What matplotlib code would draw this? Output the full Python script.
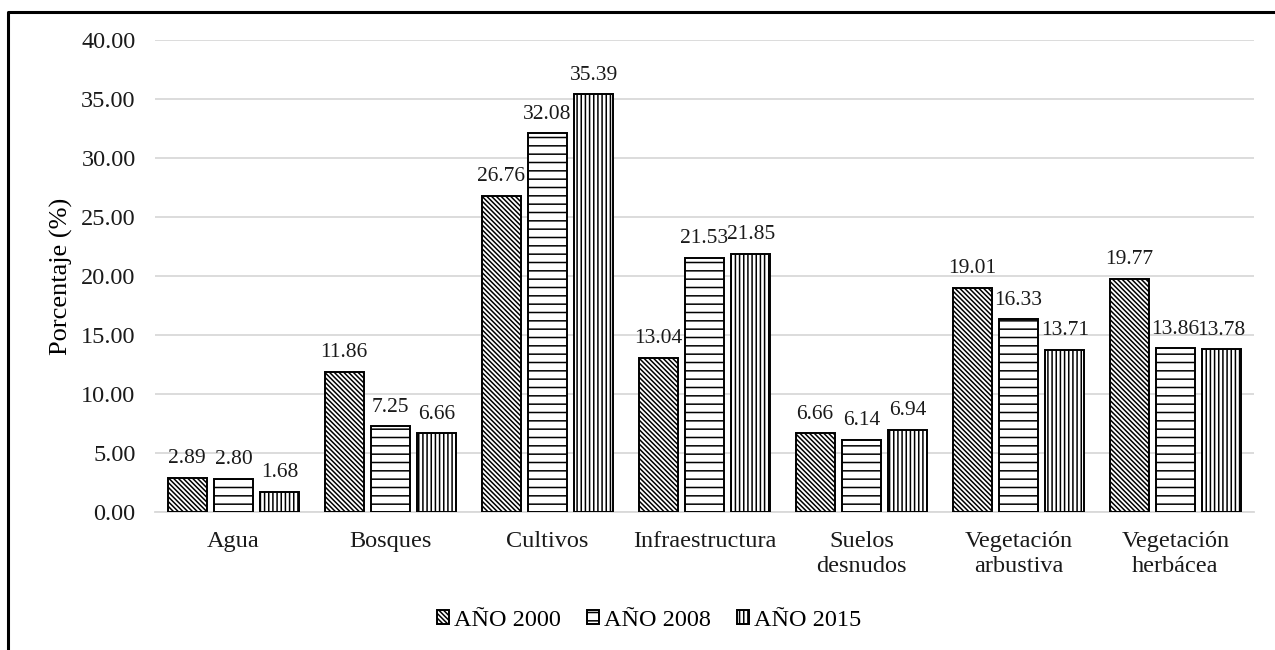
import numpy as np
import matplotlib
matplotlib.use("Agg")
import matplotlib.pyplot as plt
from matplotlib.lines import Line2D

# Data
categories = ["Agua", "Bosques", "Cultivos", "Infraestructura",
              "Suelos\ndesnudos", "Vegetación\narbustiva", "Vegetación\nherbácea"]
series_names = ["AÑO 2000", "AÑO 2008", "AÑO 2015"]
values_2000 = [2.89, 11.86, 26.76, 13.04, 6.66, 19.01, 19.77]
values_2008 = [2.80, 7.25, 32.08, 21.53, 6.14, 16.33, 13.86]
values_2015 = [1.68, 6.66, 35.39, 21.85, 6.94, 13.71, 13.78]

plt.rcParams['font.family'] = ['Liberation Serif', 'DejaVu Serif']
plt.rcParams['hatch.linewidth'] = 1.1
plt.rcParams['hatch.color'] = 'black'

fs = 17.5
fig = plt.figure(figsize=(12.75, 6.5), dpi=100)
ax = fig.add_axes([0.1216, 0.2123, 0.8619, 0.7262])

x = np.arange(len(categories))
width = 0.25
step = 0.295
hatches = ['\\' * 7, '--', '|' * 4]
all_values = [values_2000, values_2008, values_2015]

for i, (name, vals, h) in enumerate(zip(series_names, all_values, hatches)):
    pos = x + (i - 1) * step
    bars = ax.bar(pos, vals, width, label=name, facecolor='white',
                  edgecolor='black', linewidth=1.4, hatch=h, zorder=3)
    for b, v in zip(bars, vals):
        ax.annotate(f"{v:.2f}", (b.get_x() + b.get_width() / 2, v),
                    xytext=(0, 7), textcoords='offset points',
                    ha='center', va='bottom', fontsize=15.5, color='#1a1a1a')

ax.set_ylim(0, 40)
ax.set_xlim(-0.5, len(categories) - 0.5)
ax.set_yticks(np.arange(0, 40.01, 5))
ax.set_yticklabels([f"{t:.2f}" for t in np.arange(0, 40.01, 5)])
ax.set_xticks(x)
ax.set_xticklabels(categories, linespacing=1.25)
ax.tick_params(axis='both', length=0, labelsize=fs, colors='#1a1a1a')
ax.tick_params(axis='x', pad=14)
ax.tick_params(axis='y', pad=14)
ax.grid(axis='y', color='#d9d9d9', linewidth=1.3, zorder=0)
for side in ['top', 'right', 'left']:
    ax.spines[side].set_visible(False)
ax.spines['bottom'].set_color('#d9d9d9')
ax.spines['bottom'].set_linewidth(1.3)
ax.set_ylabel("Porcentaje (%)", fontsize=19, labelpad=6)

fig.legend(loc='center', bbox_to_anchor=(0.509, 0.046), ncol=3, frameon=False,
           fontsize=fs, handlelength=0.5, handleheight=0.5, handletextpad=0.2,
           columnspacing=1.07)

# outer frame (left and top edges)
fig.add_artist(Line2D([8 / 1275, 8 / 1275, 1.0], [0.0, 1 - 12 / 650, 1 - 12 / 650],
                      transform=fig.transFigure, color='black', linewidth=2.2))

fig.savefig("out.png", dpi=100)
